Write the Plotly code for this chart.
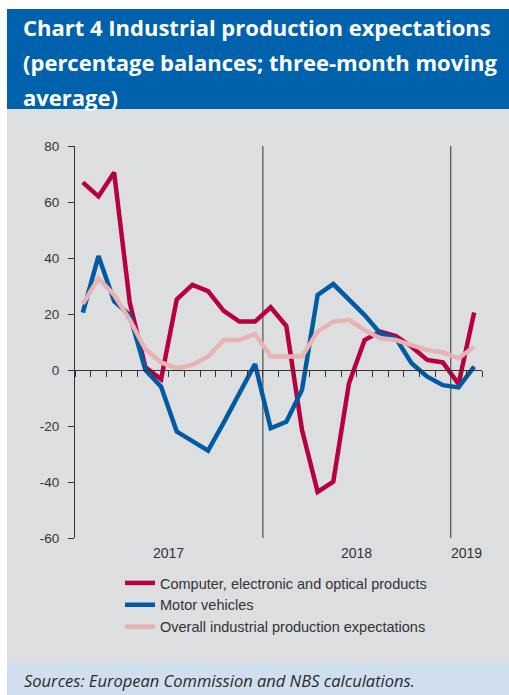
import plotly.graph_objects as go

# Monthly observations, January 2017 - February 2019
months = [
    "2017-01", "2017-02", "2017-03", "2017-04", "2017-05", "2017-06",
    "2017-07", "2017-08", "2017-09", "2017-10", "2017-11", "2017-12",
    "2018-01", "2018-02", "2018-03", "2018-04", "2018-05", "2018-06",
    "2018-07", "2018-08", "2018-09", "2018-10", "2018-11", "2018-12",
    "2019-01", "2019-02",
]
computer = [67, 62, 70.5, 24, 1, -3.3, 25.2, 30.4, 28.2, 21.1, 17.3, 17.3,
            22.4, 15.7, -21.4, -43.5, -39.9, -4.8, 10.7, 13.7, 12.1, 8.3, 3.6, 2.7,
            -5, 20.5]
motor = [20.5, 40.7, 24.6, 19.6, 0, -6, -22, -25.6, -28.8, -18.8, -8.1, 2.1,
         -20.8, -18.5, -7.1, 26.8, 30.7, 25.2, 19.6, 13.1, 11.3, 2.4, -2.4, -5.4,
         -6.2, 1.2]
overall = [23.6, 32.7, 26.8, 17.9, 7.4, 2.7, 0.6, 1.8, 4.8, 10.7, 10.7, 12.9,
           4.8, 4.8, 4.8, 13.7, 17.3, 17.9, 14.3, 11.3, 10.7, 8.9, 7.1, 6.3,
           4.2, 8.3]

series_names = [
    "Computer, electronic and optical products",
    "Motor vehicles",
    "Overall industrial production expectations",
]
series_colors = ["#B80041", "#005BA4", "#E8B3B2"]
y_ticks = [-60, -40, -20, 0, 20, 40, 60, 80]

title_lines = [
    "Chart 4 Industrial production expectations",
    "(percentage balances; three-month moving",
    "average)",
]
source_text = "Sources: European Commission and NBS calculations."

# ---- page geometry (pixels) ----
W, H = 509, 695
PLOT_L, PLOT_R, PLOT_T, PLOT_B = 75, 482, 146, 538


def px_x(px):
    return (px - PLOT_L) / (PLOT_R - PLOT_L)


def px_y(py):
    return (PLOT_B - py) / (PLOT_B - PLOT_T)


fig = go.Figure()
idx = list(range(len(months)))
for name, vals, col in zip(series_names, [computer, motor, overall], series_colors):
    fig.add_trace(go.Scatter(
        x=idx, y=vals, mode="lines", name=name,
        line=dict(color=col, width=4.5), legendgroup=name,
    ))

# panels: blue header, grey body, light-blue source strip
shapes = [
    dict(type="rect", xref="paper", yref="paper", layer="below",
         x0=px_x(7), x1=px_x(W + 2), y0=px_y(109), y1=px_y(9),
         fillcolor="#0062AC", line=dict(width=0)),
    dict(type="rect", xref="paper", yref="paper", layer="below",
         x0=px_x(7), x1=px_x(W + 2), y0=px_y(662), y1=px_y(109),
         fillcolor="#DDDEE0", line=dict(width=0)),
    dict(type="rect", xref="paper", yref="paper", layer="below",
         x0=px_x(7), x1=px_x(W + 2), y0=px_y(H + 2), y1=px_y(662),
         fillcolor="#CFDFEF", line=dict(width=0)),
]

# year separators and year labels, derived from the month list
years = []
for i, m in enumerate(months):
    y = m[:4]
    if not years or years[-1][0] != y:
        years.append([y, []])
    years[-1][1].append(i)

annotations = []
for k, (yr, ids) in enumerate(years):
    if k > 0:
        shapes.append(dict(type="line", xref="x", yref="y", layer="below",
                           x0=ids[0] - 0.5, x1=ids[0] - 0.5,
                           y0=y_ticks[0], y1=y_ticks[-1],
                           line=dict(color="#5A5A5A", width=1.3)))
    annotations.append(dict(x=sum(ids) / len(ids), y=y_ticks[0], xref="x", yref="y",
                            text=yr, showarrow=False, yanchor="top", yshift=-5,
                            font=dict(family="Liberation Sans", size=14, color="#333333")))

for j, line in enumerate(title_lines):
    annotations.append(dict(x=px_x(21), y=px_y(27 + 35 * j), xref="paper", yref="paper",
                            xanchor="left", yanchor="middle", showarrow=False,
                            text="<b>" + line + "</b>",
                            font=dict(family="Open Sans", size=22, color="white")))

annotations.append(dict(x=px_x(22), y=px_y(680), xref="paper", yref="paper",
                        xanchor="left", yanchor="middle", showarrow=False,
                        text="<i>" + source_text + "</i>",
                        font=dict(family="Open Sans", size=16.5, color="#2A2A2A")))

fig.update_layout(
    width=W, height=H,
    margin=dict(l=PLOT_L, r=W - PLOT_R, t=PLOT_T, b=H - PLOT_B, pad=0),
    paper_bgcolor="white", plot_bgcolor="rgba(0,0,0,0)",
    shapes=shapes, annotations=annotations,
    showlegend=True,
    legend=dict(x=px_x(120), y=px_y(567), xanchor="left", yanchor="top",
                bgcolor="rgba(0,0,0,0)", tracegroupgap=0,
                font=dict(family="Liberation Sans", size=14.5, color="#333333")),
    xaxis=dict(type="linear", range=[-0.5, len(months) - 0.5],
               tickmode="array", tickvals=[i - 0.5 for i in range(len(months) + 1)],
               showticklabels=False, ticks="outside", ticklen=6, tickcolor="#333333",
               showline=True, linecolor="#333333", linewidth=1,
               showgrid=False, zeroline=False,
               anchor="free", position=(0 - y_ticks[0]) / (y_ticks[-1] - y_ticks[0])),
    yaxis=dict(range=[y_ticks[0], y_ticks[-1]], tickmode="array", tickvals=y_ticks,
               ticktext=[str(v) for v in y_ticks],
               ticks="outside", ticklen=6, tickcolor="#333333",
               showline=True, linecolor="#333333", linewidth=1,
               showgrid=False, zeroline=False, ticklabelstandoff=6,
               tickfont=dict(family="Liberation Sans", size=13.5, color="#333333")),
)

fig.write_html("out.html")
